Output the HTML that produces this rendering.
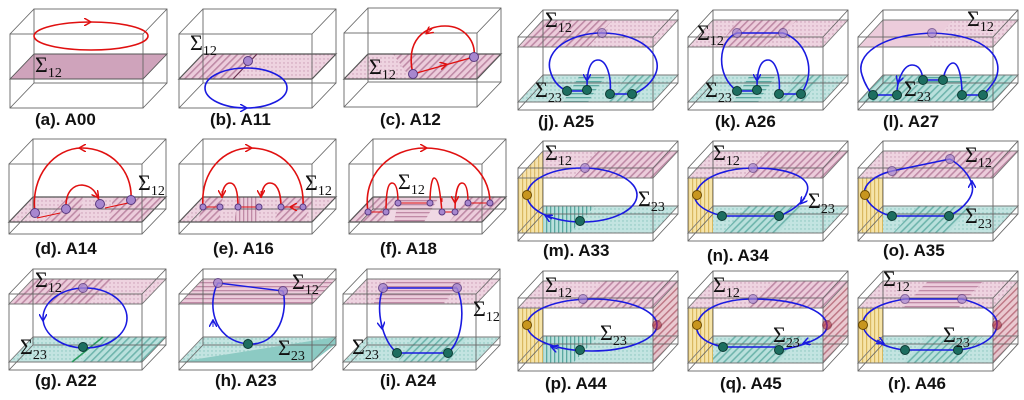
<!DOCTYPE html>
<html><head><meta charset="utf-8"><style>
html,body{margin:0;padding:0;background:#fff;}
svg{display:block;}
.lb{font-family:"Liberation Sans",Arial,sans-serif;font-weight:bold;font-size:17px;fill:#111;}
.sg{font-family:"Liberation Serif",serif;font-size:22px;fill:#111;}
.sg tspan{font-size:14px;}
</style></head><body>
<svg width="1024" height="400" viewBox="0 0 1024 400" xmlns="http://www.w3.org/2000/svg">
<defs>
<pattern id="ph" width="5" height="5" patternUnits="userSpaceOnUse" patternTransform="rotate(45)"><rect width="5" height="5" fill="#ecccdb"/><rect width="1.6" height="5" fill="#bf8aa6"/></pattern>
<pattern id="pd" width="4" height="4" patternUnits="userSpaceOnUse"><rect width="4" height="4" fill="#eed3e0"/><circle cx="1" cy="1" r="0.7" fill="#c99ab3"/></pattern>
<pattern id="pv" width="4" height="4" patternUnits="userSpaceOnUse"><rect width="4" height="4" fill="#ecccdb"/><rect width="1.3" height="4" fill="#c08aa6"/></pattern>
<pattern id="pz" width="4" height="4" patternUnits="userSpaceOnUse"><rect width="4" height="4" fill="#ecccdb"/><rect width="4" height="1.3" fill="#c08aa6"/></pattern>
<pattern id="th" width="5" height="5" patternUnits="userSpaceOnUse" patternTransform="rotate(45)"><rect width="5" height="5" fill="#b9e0dc"/><rect width="1.6" height="5" fill="#6fb5ad"/></pattern>
<pattern id="td" width="4" height="4" patternUnits="userSpaceOnUse"><rect width="4" height="4" fill="#c3e4e1"/><circle cx="1" cy="1" r="0.7" fill="#86c3bc"/></pattern>
<pattern id="tv" width="4" height="4" patternUnits="userSpaceOnUse"><rect width="4" height="4" fill="#b9e0dc"/><rect width="1.3" height="4" fill="#5aa8a0"/></pattern>
<pattern id="tz" width="4" height="4" patternUnits="userSpaceOnUse"><rect width="4" height="4" fill="#b9e0dc"/><rect width="4" height="1.3" fill="#5aa8a0"/></pattern>
<pattern id="yv" width="4" height="4" patternUnits="userSpaceOnUse"><rect width="4" height="4" fill="#f6e4a8"/><rect width="1.2" height="4" fill="#d9b860"/></pattern>
<pattern id="rh" width="5" height="5" patternUnits="userSpaceOnUse" patternTransform="rotate(45)"><rect width="5" height="5" fill="#e8c3cb"/><rect width="1.5" height="5" fill="#b86a7a"/></pattern>
<marker id="ar" viewBox="0 0 8 8" refX="6" refY="4" markerWidth="8" markerHeight="8" markerUnits="userSpaceOnUse" orient="auto"><path d="M0 0L7 4L0 8" fill="none" stroke="#e01010" stroke-width="1.5"/></marker>
<marker id="ab" viewBox="0 0 8 8" refX="6" refY="4" markerWidth="8" markerHeight="8" markerUnits="userSpaceOnUse" orient="auto"><path d="M0 0L7 4L0 8" fill="none" stroke="#1a1ae0" stroke-width="1.5"/></marker>
<g id="bL74" fill="none" stroke="#666" stroke-width="0.9"><rect x="24" y="-25" width="133" height="74"/><rect x="0" y="0" width="133" height="74"/><path d="M0 0L24 -25M133 0L157 -25M133 74L157 49M0 74L24 49"/></g>
<g id="bL70" fill="none" stroke="#666" stroke-width="0.9"><rect x="24" y="-25" width="133" height="70"/><rect x="0" y="0" width="133" height="70"/><path d="M0 0L24 -25M133 0L157 -25M133 70L157 45M0 70L24 45"/></g>
<g id="bL76" fill="none" stroke="#666" stroke-width="0.9"><rect x="24" y="-25" width="133" height="76"/><rect x="0" y="0" width="133" height="76"/><path d="M0 0L24 -25M133 0L157 -25M133 76L157 51M0 76L24 51"/></g>
<g id="bR" fill="none" stroke="#666" stroke-width="0.9"><rect x="25" y="-27" width="135" height="73"/><rect x="0" y="0" width="135" height="73"/><path d="M0 0L25 -27M135 0L160 -27M135 73L160 46M0 73L25 46"/></g>
</defs>

<!-- (a) -->
<g transform="translate(10,34)">
<polygon points="0,45 133,45 157,20 24,20" fill="#cfa3bb" stroke="#555" stroke-width="0.9"/>
<use href="#bL74"/></g>
<ellipse cx="91" cy="36" rx="57" ry="14" fill="none" stroke="#e01010" stroke-width="1.6"/>
<path d="M84 22L90 22" stroke="#e01010" marker-end="url(#ar)"/>
<text class="sg" x="35" y="72">Σ<tspan dy="5">12</tspan></text>

<!-- (b) -->
<g transform="translate(179,34)">
<polygon points="0,45 54,45 78,20 24,20" fill="url(#ph)"/>
<polygon points="54,45 133,45 157,20 78,20" fill="url(#pd)"/>
<path d="M0 45H133L157 20H24Z" fill="none" stroke="#555" stroke-width="1.2"/>
<path d="M54 45L78 20" stroke="#6b3050" stroke-width="1.2"/>
<use href="#bL74"/></g>
<ellipse cx="246" cy="88" rx="41" ry="20" fill="none" stroke="#1a1ae0" stroke-width="1.6"/>
<path d="M240 108L246 108" stroke="#1a1ae0" marker-end="url(#ab)"/>
<circle cx="248" cy="61" r="4.5" fill="#a787cf" stroke="#5a3a80"/>
<text class="sg" x="190" y="50">Σ<tspan dy="5">12</tspan></text>

<!-- (c) -->
<g transform="translate(344,33)">
<polygon points="0,46 67,46 91,21 24,21" fill="url(#pd)"/>
<polygon points="67,46 133,46 157,21 49,21" fill="url(#ph)"/>
<path d="M0 46H133L157 21H24Z" fill="none" stroke="#555" stroke-width="1.2"/>
<use href="#bL74"/></g>
<path d="M413 74L474 57" stroke="#e01010" stroke-width="1.4" fill="none"/>
<path d="M440 66L446 64.5" stroke="#e01010" marker-end="url(#ar)"/>
<path d="M413 74C405 40 425 26 445 26C465 26 476 42 474 57" fill="none" stroke="#e01010" stroke-width="1.6"/>
<path d="M432 29L427 33" stroke="#e01010" marker-end="url(#ar)"/>
<circle cx="413" cy="74" r="4.5" fill="#a787cf" stroke="#5a3a80"/>
<circle cx="474" cy="57" r="4.5" fill="#a787cf" stroke="#5a3a80"/>
<text class="sg" x="369" y="74">Σ<tspan dy="5">12</tspan></text>

<!-- (d) -->
<g transform="translate(9,164)">
<polygon points="0,58 35,58 59,33 24,33" fill="url(#pd)"/>
<polygon points="35,58 70,58 74,33 59,33" fill="url(#ph)"/>
<polygon points="70,58 100,58 104,33 74,33" fill="url(#pd)"/>
<polygon points="100,58 133,58 157,33 104,33" fill="url(#ph)"/>
<path d="M0 58H133L157 33H24Z" fill="none" stroke="#555" stroke-width="1.2"/>
<use href="#bL70"/></g>
<path d="M35 213C30 175 55 148 82 148C110 148 133 170 131 200" fill="none" stroke="#e01010" stroke-width="1.6"/>
<path d="M85 148L80 148" stroke="#e01010" marker-end="url(#ar)"/>
<path d="M66 209C65 190 75 185 82 185C92 186 97 192 100 204" fill="none" stroke="#e01010" stroke-width="1.6"/>
<path d="M95 193L98 197" stroke="#e01010" marker-end="url(#ar)"/>
<path d="M37 218L60 213M105 208L128 203" stroke="#e01010" stroke-width="1.1"/>
<circle cx="35" cy="213" r="4.5" fill="#a787cf" stroke="#5a3a80"/>
<circle cx="66" cy="209" r="4.5" fill="#a787cf" stroke="#5a3a80"/>
<circle cx="100" cy="204" r="4.5" fill="#a787cf" stroke="#5a3a80"/>
<circle cx="131" cy="200" r="4.5" fill="#a787cf" stroke="#5a3a80"/>
<text class="sg" x="138" y="190">Σ<tspan dy="5">12</tspan></text>

<!-- (e) -->
<g transform="translate(179,164)">
<polygon points="0,58 133,58 157,33 24,33" fill="url(#pd)"/>
<polygon points="18,58 40,58 44,33 28,33" fill="url(#ph)"/>
<polygon points="55,58 78,58 80,33 60,33" fill="url(#pv)"/>
<polygon points="95,58 125,58 135,33 105,33" fill="url(#ph)"/>
<path d="M0 58H133L157 33H24Z" fill="none" stroke="#555" stroke-width="1.2"/>
<use href="#bL70"/></g>
<path d="M203 207C200 170 225 148 250 148C280 148 305 170 303 207" fill="none" stroke="#e01010" stroke-width="1.6"/>
<path d="M245 148L251 148" stroke="#e01010" marker-end="url(#ar)"/>
<path d="M238 207C238 190 235 183 230 183C225 183 222 190 222 198" fill="none" stroke="#e01010" stroke-width="1.6"/>
<path d="M222 191L222 196" stroke="#e01010" marker-end="url(#ar)"/>
<path d="M281 207C281 190 276 183 270 183C264 183 262 190 261 198" fill="none" stroke="#e01010" stroke-width="1.6"/>
<path d="M261 191L261 196" stroke="#e01010" marker-end="url(#ar)"/>
<path d="M220 207H203M259 207H238M303 207H281" stroke="#e01010" stroke-width="1.1"/>
<path d="M214 207L210 207M251 207L247 207M295 207L291 207" stroke="#e01010" marker-end="url(#ar)"/>
<g fill="#a787cf" stroke="#5a3a80"><circle cx="203" cy="207" r="3"/><circle cx="220" cy="207" r="3"/><circle cx="238" cy="207" r="3"/><circle cx="259" cy="207" r="3"/><circle cx="281" cy="207" r="3"/><circle cx="303" cy="207" r="3"/></g>
<text class="sg" x="305" y="190">Σ<tspan dy="5">12</tspan></text>

<!-- (f) -->
<g transform="translate(349,164)">
<polygon points="0,58 133,58 157,33 24,33" fill="#f0d8e4"/>
<polygon points="0,58 35,58 50,33 24,33" fill="url(#ph)"/>
<polygon points="45,58 75,58 90,33 50,33" fill="url(#pz)"/>
<polygon points="100,58 133,58 157,33 120,33" fill="url(#ph)"/>
<path d="M0 58H133L157 33H24Z" fill="none" stroke="#555" stroke-width="1.2"/>
<use href="#bL70"/></g>
<path d="M368 212C362 175 390 148 425 148C460 148 490 170 490 203" fill="none" stroke="#e01010" stroke-width="1.6"/>
<path d="M420 148L426 148" stroke="#e01010" marker-end="url(#ar)"/>
<path d="M398 203C398 190 396 183 392 183C388 183 386 192 386 212M430 203C430 188 432 178 434 178C438 178 440 190 442 212M468 203C468 190 466 183 462 183C458 183 455 192 455 212" fill="none" stroke="#e01010" stroke-width="1.5"/>
<path d="M386 198L386 202M442 198L442 202M455 198L455 202" stroke="#e01010" marker-end="url(#ar)"/>
<path d="M386 212H368M430 203H398M455 212H442M490 203H468" stroke="#e01010" stroke-width="1.1"/>
<g fill="#a787cf" stroke="#5a3a80"><circle cx="368" cy="212" r="3"/><circle cx="386" cy="212" r="3"/><circle cx="398" cy="203" r="3"/><circle cx="430" cy="203" r="3"/><circle cx="442" cy="212" r="3"/><circle cx="455" cy="212" r="3"/><circle cx="468" cy="203" r="3"/><circle cx="490" cy="203" r="3"/></g>
<text class="sg" x="398" y="189">Σ<tspan dy="5">12</tspan></text>

<!-- (g) -->
<g transform="translate(9,294)">
<polygon points="0,10 80,10 104,-15 24,-15" fill="url(#ph)"/>
<polygon points="80,10 133,10 157,-15 104,-15" fill="url(#pd)"/>
<polygon points="0,68 70,68 94,43 24,43" fill="url(#td)"/>
<polygon points="70,68 133,68 157,43 94,43" fill="url(#th)"/>
<path d="M0 10H133L157 -15H24ZM0 68H133L157 43H24Z" fill="none" stroke="#777" stroke-width="0.9"/>
<path d="M63 68L94 43" stroke="#2a9a60" stroke-width="1.5"/>
<use href="#bL76"/></g>
<ellipse cx="85" cy="318" rx="42" ry="30" fill="none" stroke="#1a1ae0" stroke-width="1.6"/>
<path d="M43 314L43 320" stroke="#1a1ae0" marker-end="url(#ab)"/>
<circle cx="83" cy="288" r="4.5" fill="#a787cf" stroke="#5a3a80" opacity="0.8"/>
<circle cx="83" cy="347" r="4.5" fill="#1d6e60" stroke="#0c3a33"/>
<text class="sg" x="35" y="287">Σ<tspan dy="5">12</tspan></text>
<text class="sg" x="20" y="354">Σ<tspan dy="5">23</tspan></text>

<!-- (h) -->
<g transform="translate(179,294)">
<polygon points="0,10 133,10 157,-15 24,-15" fill="url(#pz)"/>
<polygon points="0,68 133,68 157,43 24,43" fill="url(#td)"/>
<polygon points="0,68 157,43 157,50 133,68" fill="#8ccac3"/>
<path d="M0 10H133L157 -15H24ZM0 68H133L157 43H24Z" fill="none" stroke="#777" stroke-width="0.9"/>
<use href="#bL76"/></g>
<path d="M218 283L283 291" stroke="#1a1ae0" stroke-width="1.4"/>
<path d="M218 283C208 300 210 340 248 344C280 346 288 310 283 291" fill="none" stroke="#1a1ae0" stroke-width="1.6"/>
<path d="M213 327L213 321" stroke="#1a1ae0" marker-end="url(#ab)"/>
<circle cx="218" cy="283" r="4.5" fill="#a787cf" stroke="#5a3a80" opacity="0.85"/>
<circle cx="283" cy="291" r="4.5" fill="#a787cf" stroke="#5a3a80" opacity="0.85"/>
<circle cx="248" cy="344" r="4.5" fill="#1d6e60" stroke="#0c3a33"/>
<text class="sg" x="292" y="289">Σ<tspan dy="5">12</tspan></text>
<text class="sg" x="278" y="355">Σ<tspan dy="5">23</tspan></text>

<!-- (i) -->
<g transform="translate(343,294)">
<polygon points="0,10 133,10 157,-15 24,-15" fill="url(#pd)"/>
<polygon points="30,10 100,10 120,-15 45,-15" fill="url(#pz)"/>
<polygon points="0,68 133,68 157,43 24,43" fill="url(#td)"/>
<polygon points="55,68 105,68 125,43 70,43" fill="url(#th)"/>
<path d="M0 10H133L157 -15H24ZM0 68H133L157 43H24Z" fill="none" stroke="#777" stroke-width="0.9"/>
<use href="#bL76"/></g>
<path d="M383 288H457M397 353H448" stroke="#1a1ae0" stroke-width="1.4"/>
<path d="M383 288C375 310 382 340 397 353M448 353C462 340 466 310 457 288" fill="none" stroke="#1a1ae0" stroke-width="1.6"/>
<path d="M381 322L382 328" stroke="#1a1ae0" marker-end="url(#ab)"/>
<circle cx="383" cy="288" r="4.5" fill="#a787cf" stroke="#5a3a80" opacity="0.85"/>
<circle cx="457" cy="288" r="4.5" fill="#a787cf" stroke="#5a3a80" opacity="0.85"/>
<circle cx="397" cy="353" r="4.5" fill="#1d6e60" stroke="#0c3a33"/>
<circle cx="448" cy="353" r="4.5" fill="#1d6e60" stroke="#0c3a33"/>
<text class="sg" x="473" y="316">Σ<tspan dy="5">12</tspan></text>
<text class="sg" x="352" y="354">Σ<tspan dy="5">23</tspan></text>

<!-- (j) -->
<g transform="translate(518,37)">
<polygon points="0,10 70,10 95,-17 25,-17" fill="url(#ph)"/>
<polygon points="70,10 135,10 160,-17 95,-17" fill="url(#pd)"/>
<polygon points="0,65 135,65 160,38 25,38" fill="url(#td)"/>
<polygon points="45,65 70,65 88,38 62,38" fill="url(#tz)"/>
<polygon points="90,65 115,65 135,38 110,38" fill="url(#th)"/>
<path d="M0 10H135L160 -17H25ZM0 65H135L160 38H25Z" fill="none" stroke="#777" stroke-width="0.9"/>
<use href="#bR"/></g>
<path d="M602 33C570 33 545 50 550 70C553 82 560 88 567 91M602 33C640 33 665 55 655 75C650 85 640 92 632 94" fill="none" stroke="#1a1ae0" stroke-width="1.6"/>
<path d="M610 94C612 75 606 60 598 60C591 60 587 68 587 88" fill="none" stroke="#1a1ae0" stroke-width="1.6"/>
<path d="M587 74L587 80" stroke="#1a1ae0" marker-end="url(#ab)"/>
<path d="M567 91H587M610 94H632" stroke="#1a1ae0" stroke-width="1.6"/>
<circle cx="602" cy="33" r="4.5" fill="#a787cf" stroke="#5a3a80" opacity="0.7"/>
<g fill="#1d6e60" stroke="#0c3a33"><circle cx="567" cy="91" r="4.5"/><circle cx="587" cy="90" r="4.5"/><circle cx="610" cy="94" r="4.5"/><circle cx="632" cy="94" r="4.5"/></g>
<text class="sg" x="545" y="27">Σ<tspan dy="5">12</tspan></text>
<text class="sg" x="535" y="97">Σ<tspan dy="5">23</tspan></text>

<!-- (k) -->
<g transform="translate(688,37)">
<polygon points="0,10 135,10 160,-17 25,-17" fill="url(#pd)"/>
<polygon points="30,10 75,10 110,-17 50,-17" fill="url(#ph)"/>
<polygon points="0,65 135,65 160,38 25,38" fill="url(#td)"/>
<polygon points="45,65 70,65 88,38 62,38" fill="url(#tz)"/>
<polygon points="90,65 115,65 135,38 110,38" fill="url(#th)"/>
<path d="M0 10H135L160 -17H25ZM0 65H135L160 38H25Z" fill="none" stroke="#777" stroke-width="0.9"/>
<use href="#bR"/></g>
<path d="M737 33H783" stroke="#1a1ae0" stroke-width="1.4"/>
<path d="M737 33C718 40 715 75 737 91M783 33C805 40 818 70 801 94" fill="none" stroke="#1a1ae0" stroke-width="1.6"/>
<path d="M779 94C781 75 775 60 768 60C761 60 757 68 757 88" fill="none" stroke="#1a1ae0" stroke-width="1.6"/>
<path d="M757 74L757 80" stroke="#1a1ae0" marker-end="url(#ab)"/>
<path d="M737 91H757M779 94H801" stroke="#1a1ae0" stroke-width="1.6"/>
<circle cx="737" cy="33" r="4.5" fill="#a787cf" stroke="#5a3a80" opacity="0.7"/>
<circle cx="783" cy="33" r="4.5" fill="#a787cf" stroke="#5a3a80" opacity="0.7"/>
<g fill="#1d6e60" stroke="#0c3a33"><circle cx="737" cy="91" r="4.5"/><circle cx="757" cy="90" r="4.5"/><circle cx="779" cy="94" r="4.5"/><circle cx="801" cy="94" r="4.5"/></g>
<text class="sg" x="697" y="40">Σ<tspan dy="5">12</tspan></text>
<text class="sg" x="705" y="97">Σ<tspan dy="5">23</tspan></text>

<!-- (l) -->
<g transform="translate(858,37)">
<polygon points="0,10 135,10 160,-17 25,-17" fill="url(#pd)"/>
<polygon points="0,10 70,10 95,-17 25,-17" fill="#ecccdb"/>
<polygon points="0,65 135,65 160,38 25,38" fill="url(#th)"/>
<polygon points="55,48 105,48 115,38 65,38" fill="url(#tz)"/>
<path d="M0 10H135L160 -17H25ZM0 65H135L160 38H25Z" fill="none" stroke="#777" stroke-width="0.9"/>
<use href="#bR"/></g>
<path d="M932 33C880 35 855 55 862 75C865 85 870 92 873 95M932 33C990 35 1005 60 995 80C990 88 986 92 983 95" fill="none" stroke="#1a1ae0" stroke-width="1.6"/>
<path d="M923 80C922 70 918 65 912 65C905 65 899 75 897 90M943 80C945 68 950 63 953 63C958 63 962 75 962 95" fill="none" stroke="#1a1ae0" stroke-width="1.6"/>
<path d="M900 76L898 82" stroke="#1a1ae0" marker-end="url(#ab)"/>
<path d="M873 95H897M923 80H943M962 95H983" stroke="#1a1ae0" stroke-width="1.6"/>
<circle cx="932" cy="33" r="4.5" fill="#a787cf" stroke="#5a3a80" opacity="0.7"/>
<g fill="#1d6e60" stroke="#0c3a33"><circle cx="873" cy="95" r="4.5"/><circle cx="897" cy="95" r="4.5"/><circle cx="923" cy="80" r="4.5"/><circle cx="943" cy="80" r="4.5"/><circle cx="962" cy="95" r="4.5"/><circle cx="983" cy="95" r="4.5"/></g>
<text class="sg" x="967" y="26">Σ<tspan dy="5">12</tspan></text>
<text class="sg" x="904" y="96">Σ<tspan dy="5">23</tspan></text>

<!-- (m) -->
<g transform="translate(518,168)">
<polygon points="0,10 135,10 160,-17 25,-17" fill="url(#pd)"/>
<polygon points="55,10 135,10 160,-17 80,-17" fill="url(#ph)"/>
<polygon points="0,65 135,65 160,38 25,38" fill="url(#td)"/>
<polygon points="0,65 52,65 77,38 25,38" fill="url(#tv)"/>
<polygon points="0,10 25,-17 25,38 0,65" fill="url(#yv)" opacity="0.9"/>
<polygon points="0,10 25,10 25,65 0,65" fill="url(#yv)"/>
<path d="M0 10H135L160 -17H25ZM0 65H135L160 38H25Z" fill="none" stroke="#777" stroke-width="0.9"/>
<use href="#bR"/></g>
<ellipse cx="582" cy="195" rx="55" ry="27" fill="none" stroke="#1a1ae0" stroke-width="1.6"/>
<path d="M552 219L546 216" stroke="#1a1ae0" marker-end="url(#ab)"/>
<circle cx="585" cy="168" r="4.5" fill="#a787cf" stroke="#5a3a80" opacity="0.7"/>
<circle cx="527" cy="195" r="4.5" fill="#c8961e" stroke="#6a4a00"/>
<circle cx="580" cy="221" r="4.5" fill="#1d6e60" stroke="#0c3a33"/>
<text class="sg" x="545" y="160">Σ<tspan dy="5">12</tspan></text>
<text class="sg" x="638" y="206">Σ<tspan dy="5">23</tspan></text>

<!-- (n) -->
<g transform="translate(688,168)">
<polygon points="0,10 135,10 160,-17 25,-17" fill="url(#pd)"/>
<polygon points="55,10 135,10 160,-17 80,-17" fill="url(#ph)"/>
<polygon points="0,65 135,65 160,38 25,38" fill="url(#td)"/>
<polygon points="35,65 90,65 115,38 60,38" fill="url(#th)"/>
<polygon points="0,10 25,10 25,65 0,65" fill="url(#yv)"/>
<path d="M0 10H135L160 -17H25ZM0 65H135L160 38H25Z" fill="none" stroke="#777" stroke-width="0.9"/>
<use href="#bR"/></g>
<path d="M722 216H779" stroke="#1a1ae0" stroke-width="1.6"/>
<path d="M722 216C700 210 690 200 697 190C705 175 730 168 753 168C790 168 812 178 807 192C804 203 790 212 779 216" fill="none" stroke="#1a1ae0" stroke-width="1.6"/>
<path d="M805 198L801 203" stroke="#1a1ae0" marker-end="url(#ab)"/>
<circle cx="753" cy="168" r="4.5" fill="#a787cf" stroke="#5a3a80" opacity="0.7"/>
<circle cx="697" cy="195" r="4.5" fill="#c8961e" stroke="#6a4a00"/>
<circle cx="722" cy="216" r="4.5" fill="#1d6e60" stroke="#0c3a33"/>
<circle cx="779" cy="216" r="4.5" fill="#1d6e60" stroke="#0c3a33"/>
<text class="sg" x="713" y="160">Σ<tspan dy="5">12</tspan></text>
<text class="sg" x="808" y="208">Σ<tspan dy="5">23</tspan></text>

<!-- (o) -->
<g transform="translate(858,168)">
<polygon points="0,10 135,10 160,-17 25,-17" fill="url(#ph)"/>
<polygon points="0,10 30,10 55,-17 25,-17" fill="url(#pd)"/>
<polygon points="0,65 135,65 160,38 25,38" fill="url(#td)"/>
<polygon points="35,65 90,65 115,38 60,38" fill="url(#th)"/>
<polygon points="0,10 25,10 25,65 0,65" fill="url(#yv)"/>
<path d="M0 10H135L160 -17H25ZM0 65H135L160 38H25Z" fill="none" stroke="#777" stroke-width="0.9"/>
<use href="#bR"/></g>
<path d="M892 171L950 159M892 216H949" stroke="#1a1ae0" stroke-width="1.5"/>
<path d="M892 171C875 175 862 185 865 195C868 205 880 214 892 216M949 216C965 208 975 195 972 185C970 175 960 165 950 159" fill="none" stroke="#1a1ae0" stroke-width="1.6"/>
<path d="M972 188L972 182" stroke="#1a1ae0" marker-end="url(#ab)"/>
<circle cx="892" cy="171" r="4.5" fill="#a787cf" stroke="#5a3a80" opacity="0.7"/>
<circle cx="950" cy="159" r="4.5" fill="#a787cf" stroke="#5a3a80" opacity="0.7"/>
<circle cx="865" cy="195" r="4.5" fill="#c8961e" stroke="#6a4a00"/>
<circle cx="892" cy="216" r="4.5" fill="#1d6e60" stroke="#0c3a33"/>
<circle cx="949" cy="216" r="4.5" fill="#1d6e60" stroke="#0c3a33"/>
<text class="sg" x="965" y="162">Σ<tspan dy="5">12</tspan></text>
<text class="sg" x="965" y="223">Σ<tspan dy="5">23</tspan></text>

<!-- (p) -->
<g transform="translate(518,298)">
<polygon points="0,10 135,10 160,-17 25,-17" fill="url(#pd)"/>
<polygon points="60,10 135,10 160,-17 85,-17" fill="url(#ph)"/>
<polygon points="0,65 135,65 160,38 25,38" fill="url(#td)"/>
<polygon points="0,65 55,65 80,38 25,38" fill="url(#tv)"/>
<polygon points="0,10 25,10 25,65 0,65" fill="url(#yv)"/>
<polygon points="135,10 160,-17 160,38 135,65" fill="url(#rh)" opacity="0.9"/>
<path d="M0 10H135L160 -17H25ZM0 65H135L160 38H25Z" fill="none" stroke="#777" stroke-width="0.9"/>
<use href="#bR"/></g>
<ellipse cx="592" cy="325" rx="65" ry="26" fill="none" stroke="#1a1ae0" stroke-width="1.6"/>
<path d="M558 349L552 347" stroke="#1a1ae0" marker-end="url(#ab)"/>
<circle cx="583" cy="299" r="4.5" fill="#a787cf" stroke="#5a3a80" opacity="0.7"/>
<circle cx="527" cy="325" r="4.5" fill="#c8961e" stroke="#6a4a00"/>
<circle cx="657" cy="325" r="4.5" fill="#b03040" stroke="#702030" opacity="0.6"/>
<circle cx="580" cy="350" r="4.5" fill="#1d6e60" stroke="#0c3a33"/>
<text class="sg" x="545" y="292">Σ<tspan dy="5">12</tspan></text>
<text class="sg" x="600" y="340">Σ<tspan dy="5">23</tspan></text>

<!-- (q) -->
<g transform="translate(688,298)">
<polygon points="0,10 135,10 160,-17 25,-17" fill="url(#pd)"/>
<polygon points="60,10 135,10 160,-17 85,-17" fill="url(#ph)"/>
<polygon points="0,65 135,65 160,38 25,38" fill="url(#td)"/>
<polygon points="20,65 90,65 115,38 45,38" fill="url(#th)"/>
<polygon points="0,10 25,10 25,65 0,65" fill="url(#yv)"/>
<polygon points="135,10 160,-17 160,38 135,65" fill="url(#rh)" opacity="0.9"/>
<path d="M0 10H135L160 -17H25ZM0 65H135L160 38H25Z" fill="none" stroke="#777" stroke-width="0.9"/>
<use href="#bR"/></g>
<path d="M723 347H779" stroke="#1a1ae0" stroke-width="1.6"/>
<path d="M723 347C705 343 695 335 697 325C700 308 725 299 753 299C795 299 825 310 827 325C828 338 800 347 779 350" fill="none" stroke="#1a1ae0" stroke-width="1.6"/>
<path d="M810 341L804 343" stroke="#1a1ae0" marker-end="url(#ab)"/>
<circle cx="753" cy="299" r="4.5" fill="#a787cf" stroke="#5a3a80" opacity="0.7"/>
<circle cx="697" cy="325" r="4.5" fill="#c8961e" stroke="#6a4a00"/>
<circle cx="827" cy="325" r="4.5" fill="#b03040" stroke="#702030" opacity="0.6"/>
<circle cx="723" cy="347" r="4.5" fill="#1d6e60" stroke="#0c3a33"/>
<circle cx="779" cy="350" r="4.5" fill="#1d6e60" stroke="#0c3a33"/>
<text class="sg" x="713" y="292">Σ<tspan dy="5">12</tspan></text>
<text class="sg" x="773" y="342">Σ<tspan dy="5">23</tspan></text>

<!-- (r) -->
<g transform="translate(858,298)">
<polygon points="0,10 135,10 160,-17 25,-17" fill="url(#pd)"/>
<polygon points="45,10 100,10 125,-17 70,-17" fill="url(#pz)"/>
<polygon points="0,65 135,65 160,38 25,38" fill="url(#td)"/>
<polygon points="45,65 100,65 125,38 70,38" fill="url(#th)"/>
<polygon points="0,10 25,10 25,65 0,65" fill="url(#yv)"/>
<polygon points="135,10 160,-17 160,38 135,65" fill="url(#rh)" opacity="0.9"/>
<path d="M0 10H135L160 -17H25ZM0 65H135L160 38H25Z" fill="none" stroke="#777" stroke-width="0.9"/>
<use href="#bR"/></g>
<path d="M905 299H962M905 350H958" stroke="#1a1ae0" stroke-width="1.6"/>
<path d="M905 299C880 303 862 312 863 325C864 338 885 348 905 350M962 299C985 305 998 315 997 325C996 338 980 348 958 350" fill="none" stroke="#1a1ae0" stroke-width="1.6"/>
<path d="M877 340L883 343" stroke="#1a1ae0" marker-end="url(#ab)"/>
<circle cx="905" cy="299" r="4.5" fill="#a787cf" stroke="#5a3a80" opacity="0.7"/>
<circle cx="962" cy="299" r="4.5" fill="#a787cf" stroke="#5a3a80" opacity="0.7"/>
<circle cx="863" cy="325" r="4.5" fill="#c8961e" stroke="#6a4a00"/>
<circle cx="997" cy="325" r="4.5" fill="#b03040" stroke="#702030" opacity="0.6"/>
<circle cx="905" cy="350" r="4.5" fill="#1d6e60" stroke="#0c3a33"/>
<circle cx="958" cy="350" r="4.5" fill="#1d6e60" stroke="#0c3a33"/>
<text class="sg" x="883" y="286">Σ<tspan dy="5">12</tspan></text>
<text class="sg" x="943" y="342">Σ<tspan dy="5">23</tspan></text>

<!-- labels -->
<text class="lb" x="35" y="125">(a). A00</text>
<text class="lb" x="210" y="125">(b). A11</text>
<text class="lb" x="380" y="125">(c). A12</text>
<text class="lb" x="35" y="254">(d). A14</text>
<text class="lb" x="213" y="254">(e). A16</text>
<text class="lb" x="380" y="254">(f). A18</text>
<text class="lb" x="35" y="386">(g). A22</text>
<text class="lb" x="215" y="386">(h). A23</text>
<text class="lb" x="380" y="386">(i). A24</text>
<text class="lb" x="538" y="127">(j). A25</text>
<text class="lb" x="715" y="127">(k). A26</text>
<text class="lb" x="883" y="127">(l). A27</text>
<text class="lb" x="543" y="256">(m). A33</text>
<text class="lb" x="707" y="261">(n). A34</text>
<text class="lb" x="883" y="256">(o). A35</text>
<text class="lb" x="545" y="389">(p). A44</text>
<text class="lb" x="720" y="389">(q). A45</text>
<text class="lb" x="888" y="389">(r). A46</text>
</svg>
</body></html>
